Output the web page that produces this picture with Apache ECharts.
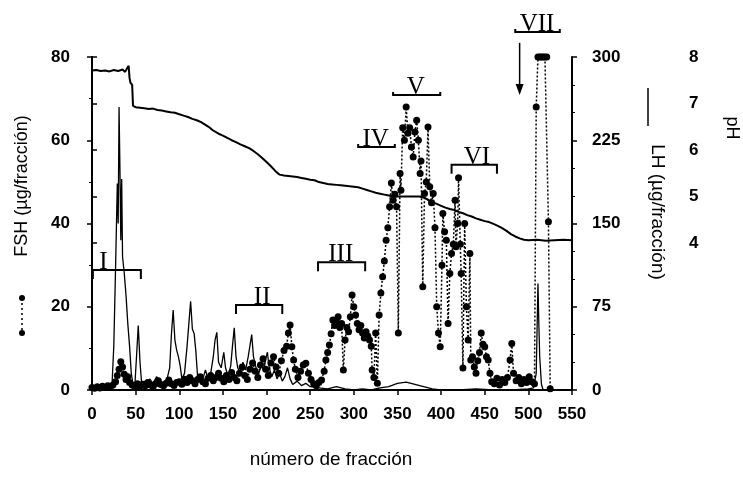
<!DOCTYPE html>
<html><head><meta charset="utf-8">
<script src="https://cdn.jsdelivr.net/npm/echarts@6/dist/echarts.min.js"></script>
<style>html,body{margin:0;padding:0;background:#fff}#c{width:743px;height:477px}</style>
</head><body><div id="c"></div>
<script>
// ---- DATA ----
const fractionTicks = [0, 50, 100, 150, 200, 250, 300, 350, 400, 450, 500, 550];
const fshTicks = [0, 20, 40, 60, 80];
const lhTicks = [0, 75, 150, 225, 300];
const phTicks = [4, 5, 6, 7, 8];

// FSH (µg/fracción) : [fracción, valor]
const fshData = [
[0,0.6],[3,0.4],[6,0.8],[9,0.5],[12,0.9],[15,0.6],[18,1.0],[21,0.7],[24,1.2],[27,2.0],[29,3.5],[31,5.0],[33,6.8],[35,5.5],[37,3.8],[39,2.5],[41,3.2],[43,1.8],[46,1.2],[49,0.8],
[52,1.5],[55,0.9],[58,1.4],[61,1.0],[64,1.8],[67,1.2],[70,0.8],[73,1.5],[76,2.2],[79,1.3],[82,1.0],[85,1.6],[88,2.4],[91,1.5],[94,1.1],[97,1.8],[100,2.0],[103,1.4],[106,2.6],[109,1.8],
[112,3.0],[115,2.2],[118,1.5],[121,2.5],[124,3.2],[127,2.0],[130,1.5],[133,2.8],[136,3.5],[139,2.2],[142,3.0],[145,4.0],[148,2.8],[151,2.0],[154,3.5],[157,2.5],[160,4.2],[163,3.0],[166,2.2],[169,4.0],
[172,5.5],[175,3.5],[178,2.5],[181,5.0],[184,6.5],[187,4.5],[190,3.0],[193,6.0],[196,7.5],[199,5.0],[202,3.5],[205,6.5],[208,8.0],[211,5.5],[214,4.0],[217,7.0],[220,9.5],[223,10.5],[225,13.7],[227,15.6],
[229,10.4],[231,7.2],[233,5.0],[236,3.0],[239,4.5],[242,6.0],[245,6.4],[248,4.0],[251,2.5],[254,1.5],[257,1.0],[260,1.8],[263,2.4],[266,4.5],[268,7.2],[270,9.0],[272,10.8],[274,13.5],[276,16.8],[278,15.5],
[280,16.5],[282,17.6],[284,15.0],[286,16.0],[288,4.8],[290,12.0],[292,15.0],[294,14.0],[296,17.6],[298,22.8],[300,20.0],[302,18.0],[304,16.0],[306,14.5],[308,15.5],[310,13.7],[312,12.5],[314,14.0],[316,13.0],[318,12.0],
[320,10.5],[321,4.8],[323,3.0],[325,13.7],[327,1.6],[329,18.0],[331,23.3],[333,27.2],[335,31.0],[337,36.0],[339,39.0],[341,44.0],[343,49.7],[345,45.6],[347,47.0],[349,44.0],[351,13.7],[353,52.0],[354,48.0],[356,63.0],
[358,60.0],[360,68.0],[362,61.7],[364,63.0],[366,58.4],[368,56.0],[370,62.0],[372,64.8],[374,60.0],[376,52.0],[377,55.0],[379,24.8],[381,47.2],[383,50.0],[385,63.2],[387,48.8],[389,45.0],[391,47.2],[393,39.0],[395,20.0],
[397,13.7],[399,10.4],[401,30.0],[402,42.4],[404,38.0],[406,36.0],[408,16.0],[410,28.0],[412,32.8],[414,35.0],[416,45.6],[417,34.4],[419,40.0],[420,51.0],[422,35.0],[423,28.0],[425,5.3],[427,40.0],[429,20.0],[431,12.0],
[433,32.8],[434,7.2],[436,8.0],[438,5.5],[440,4.0],[442,7.0],[444,9.0],[446,13.7],[448,11.0],[450,10.4],[452,8.0],[454,7.2],[456,4.0],[458,2.0],[461,1.5],[464,2.8],[467,1.2],[470,2.5],[473,1.8],[476,3.0],
[479,7.2],[481,11.2],[483,4.0],[486,2.2],[489,3.0],[492,1.5],[495,2.5],[498,1.8],[501,3.2],[504,2.0],[507,1.5],[509,68.0],[511,80],[513,80],[515,80],[517,80],[519,80],[521,80],[523,40.4],[525,0.3]
];

// LH (µg/fracción) : [fracción, valor]
const lhData = [
[0,2],[5,1],[10,3],[15,2],[20,4],[23,6],[25,40],[27,110],[29,186],[30,150],[31,255],[32,200],[33,135],[34,190],[35,120],[37,105],[39,85],[41,60],[43,40],[45,15],
[47,5],[49,3],[51,30],[53,58],[55,25],[57,5],[60,8],[63,4],[66,10],[70,6],[74,12],[78,8],[82,5],[86,10],[89,20],[91,50],[93,72],[95,45],[97,36],[99,30],
[101,22],[103,10],[106,15],[109,40],[111,60],[113,80],[115,55],[117,51],[119,35],[121,12],[124,8],[127,10],[130,18],[133,10],[136,15],[139,30],[141,45],[143,52],[145,25],[148,20],
[151,34],[153,20],[156,12],[159,22],[161,40],[163,56],[165,30],[167,20],[170,15],[173,25],[176,18],[179,30],[181,40],[183,50],[185,30],[188,20],[191,15],[194,22],[197,18],[199,28],
[201,34],[203,20],[206,12],[209,18],[212,10],[215,15],[218,8],[221,12],[224,20],[227,10],[230,5],[235,8],[240,4],[245,6],[250,3],[260,2],[270,1],[280,3],[290,1],[300,0],
[310,1],[320,0],[330,2],[340,3],[350,6],[360,7],[370,5],[380,3],[390,1],[400,0],[420,0],[440,1],[460,0],[480,0],[500,1],[506,2],[509,15],[511,96],[512,60],[513,30],
[515,5],[517,0],[530,0],[550,0]
];

// pH : [fracción, valor]
const phData = [
[0,7.71],[5,7.72],[10,7.70],[15,7.71],[20,7.69],[25,7.72],[30,7.70],[35,7.73],[38,7.68],[40,7.75],[42,7.81],[43,7.55],[44,7.45],[46,7.40],[47,6.95],[50,6.92],[55,6.91],[60,6.90],[65,6.88],[70,6.89],
[75,6.86],[80,6.85],[85,6.83],[90,6.81],[95,6.80],[100,6.77],[105,6.74],[110,6.71],[115,6.67],[120,6.64],[125,6.60],[130,6.54],[135,6.48],[138,6.43],[140,6.41],[145,6.35],[150,6.31],[155,6.26],[160,6.21],[165,6.17],
[170,6.12],[175,6.08],[180,6.04],[185,5.98],[190,5.91],[195,5.83],[200,5.74],[205,5.65],[210,5.55],[215,5.47],[220,5.45],[225,5.44],[230,5.43],[235,5.42],[240,5.40],[245,5.38],[250,5.36],[255,5.35],[260,5.31],[265,5.29],
[270,5.27],[275,5.26],[280,5.25],[285,5.24],[290,5.23],[295,5.22],[300,5.21],[305,5.20],[310,5.17],[315,5.14],[320,5.11],[325,5.08],[330,5.06],[335,5.04],[340,5.02],[345,5.00],[350,5.00],[355,5.00],[360,5.00],[365,5.00],
[370,5.00],[375,5.00],[380,4.98],[385,4.93],[390,4.88],[395,4.84],[400,4.80],[405,4.76],[410,4.73],[415,4.71],[420,4.67],[425,4.64],[430,4.60],[435,4.57],[440,4.53],[445,4.50],[450,4.47],[455,4.45],[460,4.41],[465,4.37],
[470,4.32],[475,4.26],[480,4.19],[485,4.14],[490,4.10],[495,4.07],[500,4.06],[510,4.07],[520,4.05],[530,4.06],[540,4.07],[550,4.06]
];

// Peak groups (brackets), in data units (fracción, FSH)
const bracketNames = ['I', 'II', 'III', 'IV', 'V', 'VI', 'VII'];
const bracketStart = [1, 165, 259, 305, 345, 412, 485];
const bracketEnd = [56, 218, 313, 347, 399, 464, 536];
const bracketLevel = [28.8, 20.4, 30.7, 58.4, 70.9, 54.1, 86.0];
const bracketLabelAt = [13, 195, 285, 325, 371, 441, 510];

// Arrow annotation (fracción, FSH from -> to)
const arrowFraction = [490];
const arrowFrom = [83.4];
const arrowTo = [70.9];

// ---- STYLE ----
const SANS = '"Liberation Sans", Arial, sans-serif';
const SERIF = '"Liberation Serif", "Times New Roman", serif';
const bracketTickLen = [9, 9, 9, -3, -3, 9, -3];

const chart = echarts.init(document.getElementById('c'), null, {renderer: 'canvas'});

const axisLbl = {color: '#000', fontFamily: SANS, fontSize: 17, fontWeight: 'bold'};
const axLine = {show: true, lineStyle: {color: '#000', width: 2}};

const option = {
  backgroundColor: '#fff',
  animation: false,
  grid: [
    {left: 92, right: 171, top: 57, bottom: 87, containLabel: false},
    {left: 92, right: 171, top: 57, height: 186, containLabel: false}
  ],
  xAxis: [
    {type: 'value', gridIndex: 0, min: fractionTicks[0], max: fractionTicks[fractionTicks.length - 1], interval: 50,
     axisLine: axLine, axisTick: {show: true, inside: false, length: 5, lineStyle: {color: '#000', width: 1.5}},
     axisLabel: Object.assign({margin: 16}, axisLbl), splitLine: {show: false}},
    {type: 'value', gridIndex: 1, min: 0, max: 550, show: false}
  ],
  yAxis: [
    {type: 'value', gridIndex: 0, min: fshTicks[0], max: fshTicks[fshTicks.length - 1], interval: 20, position: 'left',
     axisLine: axLine, axisTick: {show: true, length: 5, lineStyle: {color: '#000', width: 1.5}},
     minorTick: {show: true, splitNumber: 2, length: 3, lineStyle: {color: '#000', width: 1}},
     axisLabel: Object.assign({margin: 22}, axisLbl), splitLine: {show: false}},
    {type: 'value', gridIndex: 0, min: lhTicks[0], max: lhTicks[lhTicks.length - 1], interval: 75, position: 'right',
     axisLine: axLine, axisTick: {show: true, length: 5, lineStyle: {color: '#000', width: 1.5}},
     minorTick: {show: true, splitNumber: 3, length: 3, lineStyle: {color: '#000', width: 1}},
     axisLabel: Object.assign({margin: 20}, axisLbl), splitLine: {show: false}},
    {type: 'value', gridIndex: 1, min: phTicks[0], max: phTicks[phTicks.length - 1], interval: 1, position: 'right', offset: 105,
     axisLine: axLine, axisTick: {show: true, length: 5, lineStyle: {color: '#000', width: 1.5}},
     axisLabel: Object.assign({margin: 12}, axisLbl), splitLine: {show: false}}
  ],
  graphic: [
    // left axis title with legend glyph
    {type: 'text', x: 22, y: 186, rotation: Math.PI / 2,
     style: {text: 'FSH (µg/fracción)', font: '18px ' + SANS, fill: '#000', align: 'center', verticalAlign: 'middle'}},
    {type: 'line', shape: {x1: 22, y1: 298, x2: 22, y2: 333}, style: {stroke: '#000', lineWidth: 1.5, lineDash: [2, 3]}},
    {type: 'circle', shape: {cx: 22, cy: 298, r: 3}, style: {fill: '#000'}},
    {type: 'circle', shape: {cx: 22, cy: 333, r: 3}, style: {fill: '#000'}},
    // right LH title with legend glyph
    {type: 'line', shape: {x1: 648, y1: 88, x2: 648, y2: 126}, style: {stroke: '#000', lineWidth: 1.5}},
    {type: 'text', x: 657, y: 212, rotation: -Math.PI / 2,
     style: {text: 'LH (µg/fracción)', font: '19px ' + SANS, fill: '#000', align: 'center', verticalAlign: 'middle'}},
    // pH title
    {type: 'text', x: 732, y: 128, rotation: -Math.PI / 2,
     style: {text: 'pH', font: '18px ' + SANS, fill: '#000', align: 'center', verticalAlign: 'middle'}},
    // x title
    {type: 'text', x: 331, y: 460,
     style: {text: 'número de fracción', font: '19px ' + SANS, fill: '#000', align: 'center', verticalAlign: 'middle'}}
  ],
  series: [
    {name: 'pH', type: 'line', xAxisIndex: 1, yAxisIndex: 2, data: phData, showSymbol: false, symbol: 'none',
     lineStyle: {color: '#000', width: 2}, z: 2},
    {name: 'LH', type: 'line', xAxisIndex: 0, yAxisIndex: 1, data: lhData, showSymbol: false, symbol: 'none',
     lineStyle: {color: '#000', width: 1.3}, z: 3},
    {name: 'FSH', type: 'line', xAxisIndex: 0, yAxisIndex: 0, data: fshData, symbol: 'circle', symbolSize: 7, clip: false,
     itemStyle: {color: '#000'}, lineStyle: {color: '#000', width: 1.5, type: [2, 2]}, z: 4},
    {name: 'grupos', type: 'custom', xAxisIndex: 0, yAxisIndex: 0, clip: false, z: 5,
     data: bracketStart.map((s, i) => [s, bracketEnd[i], bracketLevel[i], bracketLabelAt[i]]),
     encode: {x: [0, 1, 3], y: 2},
     renderItem: function (params, api) {
       const i = params.dataIndex;
       const p1 = api.coord([api.value(0), api.value(2)]);
       const p2 = api.coord([api.value(1), api.value(2)]);
       const pl = api.coord([api.value(3), api.value(2)]);
       const t = bracketTickLen[i];
       return {type: 'group', children: [
         {type: 'polyline', shape: {points: [[p1[0], p1[1] + t], [p1[0], p1[1]], [p2[0], p2[1]], [p2[0], p2[1] + t]]},
          style: {stroke: '#000', lineWidth: 2, fill: null}},
         {type: 'text', x: pl[0], y: p1[1] + 5,
          style: {text: bracketNames[i], font: '25px ' + SERIF, fill: '#000', align: 'center', verticalAlign: 'bottom'}}
       ]};
     }},
    {name: 'flecha', type: 'custom', xAxisIndex: 0, yAxisIndex: 0, clip: false, z: 5,
     data: arrowFraction.map((f, i) => [f, arrowFrom[i], arrowTo[i]]),
     encode: {x: 0, y: [1, 2]},
     renderItem: function (params, api) {
       const a = api.coord([api.value(0), api.value(1)]);
       const b = api.coord([api.value(0), api.value(2)]);
       return {type: 'group', children: [
         {type: 'line', shape: {x1: a[0], y1: a[1], x2: b[0], y2: b[1] - 8}, style: {stroke: '#000', lineWidth: 1.5}},
         {type: 'polygon', shape: {points: [[b[0] - 4, b[1] - 11], [b[0] + 4, b[1] - 11], [b[0], b[1]]]}, style: {fill: '#000'}}
       ]};
     }}
  ]
};
chart.setOption(option);
</script>
</body></html>
